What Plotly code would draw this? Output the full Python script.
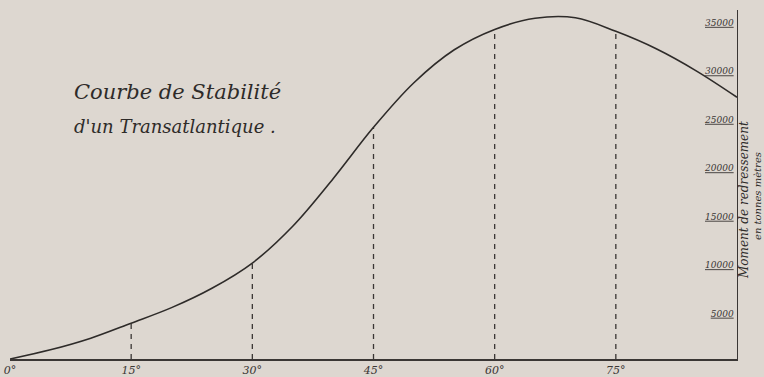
import plotly.graph_objects as go

# Data
angles = [0, 5, 10, 15, 20, 25, 30, 35, 40, 45, 50, 55, 60, 65, 70, 75, 80, 85, 90]
moments = [0, 950, 2150, 3700, 5300, 7300, 9900, 13700, 18600, 23900, 28500, 31900,
           34000, 35150, 35200, 33800, 32000, 29700, 27000]
guide_angles = [15, 30, 45, 60, 75]
x_tick_vals = [0, 15, 30, 45, 60, 75]
x_tick_text = ["0°", "15°", "30°", "45°", "60°", "75°"]
y_tick_vals = [0, 5000, 10000, 15000, 20000, 25000, 30000, 35000]
y_tick_text = ["0", "5000", "10000", "15000", "20000", "25000", "30000", "35000"]

title_1 = "Courbe de Stabilité"
title_2 = "d'un Transatlantique ."
ylab_1 = "Moment de redressement"
ylab_2 = "en tonnes mètres"

BG = "#ddd7d0"
INK = "#2e2b29"
FONT = "DejaVu Serif"

W, H = 764, 377
ml, mr, mt, mb = 10, 27, 10, 18
pw, ph = W - ml - mr, H - mt - mb

fig = go.Figure()

lookup = dict(zip(angles, moments))
for a in guide_angles:
    fig.add_trace(go.Scatter(
        x=[a, a], y=[0, lookup[a]], mode="lines",
        line=dict(color="#3a3634", width=1.3, dash="5px,5px"),
        hoverinfo="skip", showlegend=False))

fig.add_trace(go.Scatter(
    x=angles, y=moments, mode="lines",
    line=dict(color=INK, width=1.6, shape="spline", smoothing=1.0),
    showlegend=False))

fig.update_layout(
    width=W, height=H,
    margin=dict(l=ml, r=mr, t=mt, b=mb, autoexpand=False),
    paper_bgcolor=BG, plot_bgcolor=BG,
    font=dict(family=FONT, color=INK, style="italic"),
    xaxis=dict(range=[0, 90], showgrid=False, zeroline=False, automargin=False,
               showline=True, linecolor="#3a3634", linewidth=1.5,
               tickvals=x_tick_vals, ticktext=x_tick_text, ticks="",
               tickfont=dict(size=11, family=FONT, style="italic", color="#3a3634")),
    yaxis=dict(range=[0, 36000], side="right", showgrid=False, zeroline=False,
               automargin=False,
               showline=True, linecolor="#3a3634", linewidth=1.3,
               tickvals=y_tick_vals, ticktext=["<u>" + t + "</u>" for t in y_tick_text],
               ticks="", ticklabelposition="inside", ticklabelstandoff=2,
               ticklabelshift=3,
               tickfont=dict(size=9, family=FONT, style="italic", color="#3a3634")),
)


def px_ann(x, y, text, size, angle=0, xanchor="left"):
    fig.add_annotation(x=(x - ml) / pw, y=1 - (y - mt) / ph,
                       xref="paper", yref="paper", text=text, textangle=angle,
                       showarrow=False, xanchor=xanchor, yanchor="middle",
                       font=dict(size=size, family=FONT, style="italic", color=INK))


px_ann(72, 92, title_1, 21)
px_ann(72, 126, title_2, 18)
px_ann(744, 200, ylab_1, 12, angle=-90, xanchor="center")
px_ann(757, 196, ylab_2, 10, angle=-90, xanchor="center")

fig.write_html(
    "out.html",
    config={"displayModeBar": False},
    post_script="document.body.style.margin='0';document.body.style.overflow='hidden';",
)
